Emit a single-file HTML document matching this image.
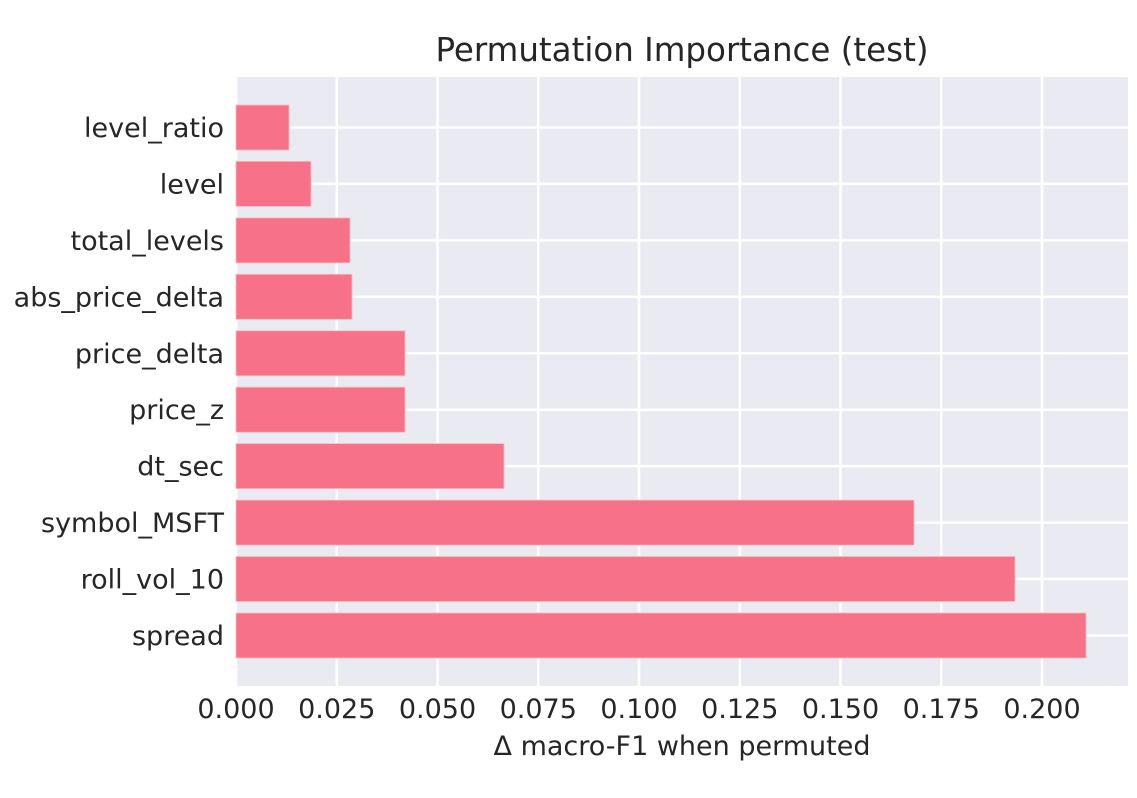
<!DOCTYPE html>
<html><head><meta charset="utf-8"><style>body{margin:0;background:#fff}</style></head><body>
<svg width="1137" height="793" xmlns="http://www.w3.org/2000/svg" font-family="DejaVu Sans, Liberation Sans, sans-serif" fill="#262626">
<rect x="236" y="77" width="892" height="609" fill="#eaeaf2"/>
<g stroke="#fff" stroke-width="2.5">
<line x1="236.0" y1="77" x2="236.0" y2="686"/><line x1="336.75" y1="77" x2="336.75" y2="686"/><line x1="437.5" y1="77" x2="437.5" y2="686"/><line x1="538.25" y1="77" x2="538.25" y2="686"/><line x1="639.0" y1="77" x2="639.0" y2="686"/><line x1="739.75" y1="77" x2="739.75" y2="686"/><line x1="840.5" y1="77" x2="840.5" y2="686"/><line x1="941.25" y1="77" x2="941.25" y2="686"/><line x1="1042.0" y1="77" x2="1042.0" y2="686"/>
<line x1="236" y1="127.5" x2="1128" y2="127.5"/><line x1="236" y1="183.9" x2="1128" y2="183.9"/><line x1="236" y1="240.4" x2="1128" y2="240.4"/><line x1="236" y1="296.8" x2="1128" y2="296.8"/><line x1="236" y1="353.3" x2="1128" y2="353.3"/><line x1="236" y1="409.7" x2="1128" y2="409.7"/><line x1="236" y1="466.1" x2="1128" y2="466.1"/><line x1="236" y1="522.6" x2="1128" y2="522.6"/><line x1="236" y1="579.0" x2="1128" y2="579.0"/><line x1="236" y1="635.5" x2="1128" y2="635.5"/>
</g>
<g fill="#f77189" stroke="#fbb" stroke-width="0.8">
<rect x="236" y="105" width="53" height="45"/>
<rect x="236" y="161.4" width="75" height="45"/>
<rect x="236" y="217.9" width="114" height="45"/>
<rect x="236" y="274.3" width="116" height="45"/>
<rect x="236" y="330.8" width="169" height="45"/>
<rect x="236" y="387.2" width="169" height="45"/>
<rect x="236" y="443.6" width="268" height="45"/>
<rect x="236" y="500.1" width="678" height="45"/>
<rect x="236" y="556.5" width="779" height="45"/>
<rect x="236" y="613" width="850" height="45"/>
</g>
<g font-size="27" text-anchor="end">
<text x="224" y="137">level_ratio</text><text x="224" y="193.4">level</text><text x="224" y="249.9">total_levels</text><text x="224" y="306.3">abs_price_delta</text><text x="224" y="362.8">price_delta</text><text x="224" y="419.2">price_z</text><text x="224" y="475.6">dt_sec</text><text x="224" y="532.1">symbol_MSFT</text><text x="224" y="588.5">roll_vol_10</text><text x="224" y="645">spread</text>
</g>
<g font-size="27" text-anchor="middle">
<text x="236" y="718">0.000</text><text x="336.75" y="718">0.025</text><text x="437.5" y="718">0.050</text><text x="538.25" y="718">0.075</text><text x="639" y="718">0.100</text><text x="739.75" y="718">0.125</text><text x="840.5" y="718">0.150</text><text x="941.25" y="718">0.175</text><text x="1042" y="718">0.200</text>
<text x="682" y="755">Δ macro-F1 when permuted</text>
<text x="682" y="61" font-size="32.5">Permutation Importance (test)</text>
</g>
</svg>
</body></html>
